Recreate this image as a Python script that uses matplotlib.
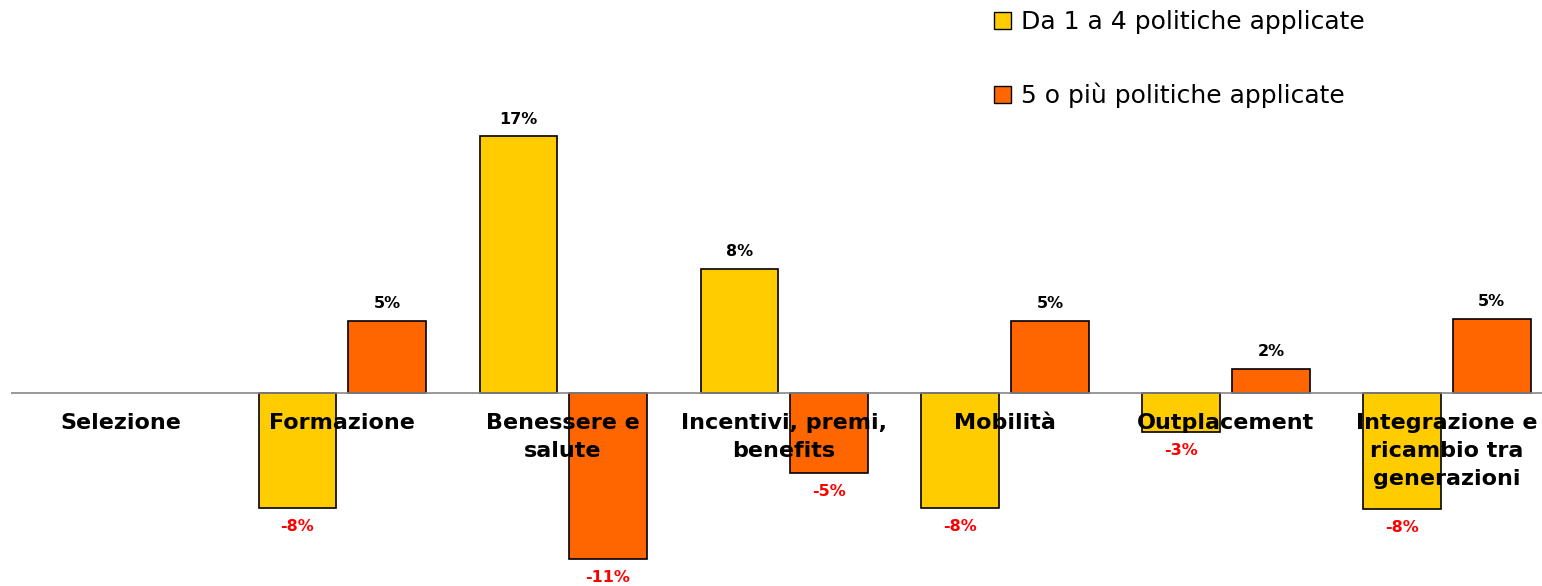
import numpy as np
import matplotlib.pyplot as plt
from matplotlib.patches import Patch

categories = ['Selezione', 'Formazione', 'Benessere e\nsalute', 'Incentivi, premi,\nbenefits',
              'Mobilità', 'Outplacement', 'Integrazione e\nricambio tra\ngenerazioni']
da1a4 = [0, -7.6, 17.0, 8.2, -7.6, -2.6, -7.7]
cinque_piu = [0, 4.8, -11.0, -5.3, 4.8, 1.6, 4.9]
series_names = ['Da 1 a 4 politiche applicate', '5 o più politiche applicate']

yellow = '#FFCC00'
orange = '#FF6600'

fig = plt.figure(figsize=(15.42, 5.86), dpi=100)
ax = fig.add_axes([0, 0, 1, 1])

x = np.arange(len(categories))
width = 0.35
off = 0.203
lblfont = 'DejaVu Sans'

for vals, col, dx in [(da1a4, yellow, -off), (cinque_piu, orange, off)]:
    for xi, v in zip(x, vals):
        if v == 0:
            continue
        ax.bar(xi + dx, v, width=width, color=col, edgecolor='black', linewidth=1.2, zorder=2)
        if v > 0:
            ax.annotate('%.0f%%' % v, (xi + dx, v), xytext=(0, 7), textcoords='offset points',
                        ha='center', va='bottom', fontsize=11.5, fontweight='bold',
                        family=lblfont, color='black')
        else:
            ax.annotate('%.0f%%' % v, (xi + dx, v), xytext=(0, -8), textcoords='offset points',
                        ha='center', va='top', fontsize=11.5, fontweight='bold',
                        family=lblfont, color='red')

ax.hlines(0, -0.5, 6.5, color='#888888', linewidth=1.2, zorder=3)

for xi, lab in zip(x, categories):
    ax.text(xi, -1.35, lab, ha='center', va='top', fontsize=16, fontweight='bold',
            family=lblfont, linespacing=1.48, zorder=4)

ax.set_xlim(-0.548, 6.43)
ax.set_ylim(-12.78, 26.03)
ax.axis('off')

handles = [Patch(facecolor=yellow, edgecolor='black'), Patch(facecolor=orange, edgecolor='black')]
fig.legend(handles, series_names, loc='upper left', bbox_to_anchor=(0.63, 1.021),
           frameon=False, prop={'family': 'DejaVu Sans', 'size': 18}, labelspacing=1.95,
           handlelength=0.7, handleheight=0.7, handletextpad=0.4)

plt.savefig('out.png', dpi=100)
